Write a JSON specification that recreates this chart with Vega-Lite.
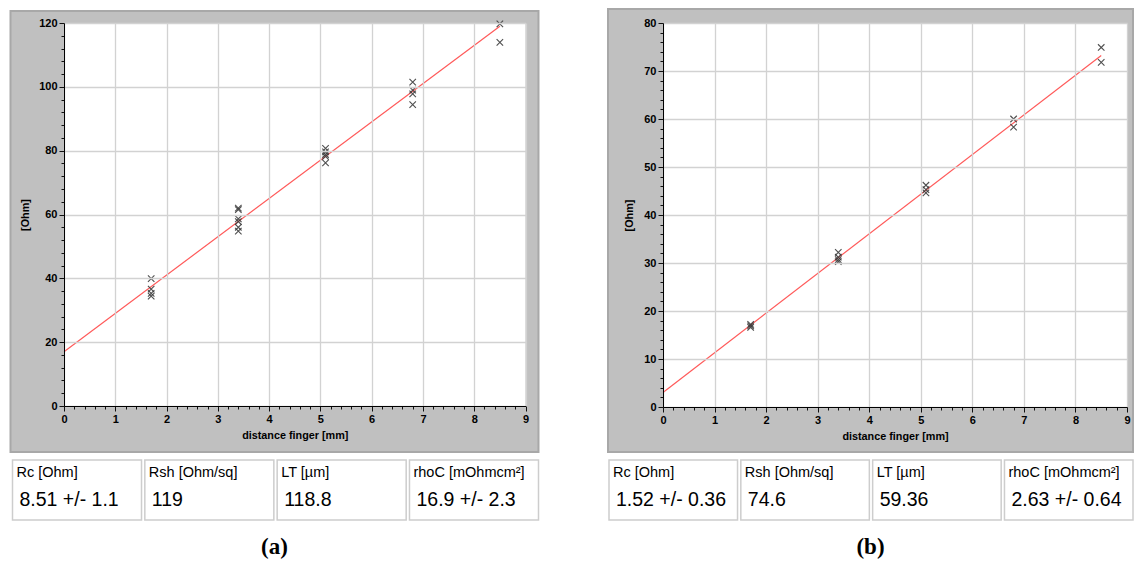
{
  "$schema": "https://vega.github.io/schema/vega-lite/v6.json",
  "background": "white",
  "padding": {"left": 9, "top": 7, "right": 0, "bottom": 0},
  "spacing": 67,
  "config": {
    "view": {"fill": "white", "stroke": null},
    "font": "Liberation Sans",
    "axis": {
      "labelFont": "Liberation Sans",
      "labelFontWeight": "bold",
      "labelFontSize": 11,
      "labelColor": "#000000",
      "labelPadding": 2,
      "labelFlush": false,
      "labelOverlap": false,
      "labelBound": false,
      "titleFont": "Liberation Sans",
      "titleFontWeight": "bold",
      "titleFontSize": 10.8,
      "titleColor": "#000000",
      "domainColor": "#000000",
      "domainWidth": 1,
      "tickColor": "#111111",
      "tickWidth": 1,
      "gridColor": "#d2d2d2",
      "gridWidth": 1.3
    }
  },
  "datasets": {
    "pointsA": [
      {"d": 1.7, "r": 39.9}, {"d": 1.7, "r": 36.6}, {"d": 1.7, "r": 35.3}, {"d": 1.7, "r": 34.4},
      {"d": 3.4, "r": 62.0}, {"d": 3.4, "r": 61.5}, {"d": 3.4, "r": 58.6}, {"d": 3.4, "r": 57.8}, {"d": 3.4, "r": 56.0}, {"d": 3.4, "r": 54.8},
      {"d": 5.1, "r": 80.7}, {"d": 5.1, "r": 79.6}, {"d": 5.1, "r": 78.8}, {"d": 5.1, "r": 78.2}, {"d": 5.1, "r": 76.2},
      {"d": 6.8, "r": 101.5}, {"d": 6.8, "r": 99.0}, {"d": 6.8, "r": 97.8}, {"d": 6.8, "r": 94.4},
      {"d": 8.5, "r": 119.7}, {"d": 8.5, "r": 113.9}
    ],
    "fitA": [{"d": 0, "r": 17.02}, {"d": 8.5, "r": 119.0}],
    "tableA": [
      {"name": "Rc [Ohm]", "value": "8.51 +/- 1.1"},
      {"name": "Rsh [Ohm/sq]", "value": "119"},
      {"name": "LT [µm]", "value": "118.8"},
      {"name": "rhoC [mOhmcm²]", "value": "16.9 +/- 2.3"}
    ],
    "pointsB": [
      {"d": 1.7, "r": 17.2}, {"d": 1.7, "r": 16.9}, {"d": 1.7, "r": 16.6},
      {"d": 3.4, "r": 32.2}, {"d": 3.4, "r": 31.2}, {"d": 3.4, "r": 30.7}, {"d": 3.4, "r": 30.3},
      {"d": 5.1, "r": 46.2}, {"d": 5.1, "r": 45.3}, {"d": 5.1, "r": 44.6},
      {"d": 6.8, "r": 60.0}, {"d": 6.8, "r": 58.3},
      {"d": 8.5, "r": 74.9}, {"d": 8.5, "r": 71.8}
    ],
    "fitB": [{"d": 0, "r": 3.04}, {"d": 8.5, "r": 73.25}],
    "tableB": [
      {"name": "Rc [Ohm]", "value": "1.52 +/- 0.36"},
      {"name": "Rsh [Ohm/sq]", "value": "74.6"},
      {"name": "LT [µm]", "value": "59.36"},
      {"name": "rhoC [mOhmcm²]", "value": "2.63 +/- 0.64"}
    ]
  },
  "hconcat": [
    {
      "spacing": 6,
      "title": {"text": "(a)", "orient": "bottom", "anchor": "middle", "font": "Liberation Serif", "fontSize": 23, "fontWeight": "bold", "color": "#000000", "offset": 15},
      "vconcat": [
        {
          "width": 461.5,
          "height": 383,
          "layer": [
            {
              "data": {"values": [{}]},
              "mark": {"type": "rect", "fill": "#c0c0c0"},
              "encoding": {
                "x": {"datum": -1.0433, "type": "quantitative"}, "x2": {"datum": 0},
                "y": {"datum": -14.41, "type": "quantitative"}, "y2": {"datum": 123.76}
              }
            },
            {
              "data": {"values": [{}]},
              "mark": {"type": "rect", "fill": "#c0c0c0"},
              "encoding": {
                "x": {"datum": 9, "type": "quantitative"}, "x2": {"datum": 9.2532},
                "y": {"datum": -14.41, "type": "quantitative"}, "y2": {"datum": 123.76}
              }
            },
            {
              "data": {"values": [{}]},
              "mark": {"type": "rect", "fill": "#c0c0c0"},
              "encoding": {
                "x": {"datum": -1.0433, "type": "quantitative"}, "x2": {"datum": 9.2532},
                "y": {"datum": 120, "type": "quantitative"}, "y2": {"datum": 123.76}
              }
            },
            {
              "data": {"values": [{}]},
              "mark": {"type": "rect", "fill": "#c0c0c0"},
              "encoding": {
                "x": {"datum": -1.0433, "type": "quantitative"}, "x2": {"datum": 9.2532},
                "y": {"datum": -14.41, "type": "quantitative"}, "y2": {"datum": 0}
              }
            },
            {
              "data": {"values": [{}]},
              "mark": {"type": "rect", "fillOpacity": 0, "stroke": "#a8a8a8", "strokeWidth": 2},
              "encoding": {
                "x": {"datum": -1.0433, "type": "quantitative"}, "x2": {"datum": 9.2532},
                "y": {"datum": -14.41, "type": "quantitative"}, "y2": {"datum": 123.76}
              }
            },
            {
              "data": {"name": "fitA"},
              "mark": {"type": "line", "color": "#ff5a5a", "strokeWidth": 1.2},
              "encoding": {
                "x": {"field": "d", "type": "quantitative"},
                "y": {"field": "r", "type": "quantitative"}
              }
            },
            {
              "data": {"name": "pointsA"},
              "mark": {"type": "point", "shape": "M-1,-1L1,1M1,-1L-1,1", "filled": false, "stroke": "#3c3c3c", "strokeWidth": 1.1, "size": 42, "opacity": 0.9},
              "encoding": {
                "x": {
                  "field": "d", "type": "quantitative",
                  "scale": {"domain": [0, 9], "nice": false, "zero": false},
                  "axis": {
                    "title": "distance finger [mm]",
                    "titlePadding": 5,
                    "grid": true,
                    "zindex": 1,
                    "tickCount": 200,
                    "values": [0,0.2,0.4,0.6,0.8,1,1.2,1.4,1.6,1.8,2,2.2,2.4,2.6,2.8,3,3.2,3.4,3.6,3.8,4,4.2,4.4,4.6,4.8,5,5.2,5.4,5.6,5.8,6,6.2,6.4,6.6,6.8,7,7.2,7.4,7.6,7.8,8,8.2,8.4,8.6,8.8,9],
                    "labelExpr": "datum.value % 1 === 0 ? '' + datum.value : ''",
                    "tickSize": {"condition": {"test": "datum.value % 1 === 0", "value": 5}, "value": 3},
                    "gridOpacity": {"condition": {"test": "datum.value % 1 === 0", "value": 1}, "value": 0}
                  }
                },
                "y": {
                  "field": "r", "type": "quantitative",
                  "scale": {"domain": [0, 120], "nice": false, "zero": false},
                  "axis": {
                    "title": "[Ohm]",
                    "titlePadding": 8,
                    "grid": true,
                    "zindex": 1,
                    "tickCount": 200,
                    "values": [0,4,8,12,16,20,24,28,32,36,40,44,48,52,56,60,64,68,72,76,80,84,88,92,96,100,104,108,112,116,120],
                    "labelExpr": "datum.value % 20 === 0 ? '' + datum.value : ''",
                    "tickSize": {"condition": {"test": "datum.value % 20 === 0", "value": 5}, "value": 3},
                    "gridOpacity": {"condition": {"test": "datum.value % 20 === 0", "value": 1}, "value": 0}
                  }
                }
              }
            }
          ]
        },
        {
          "width": 461.5,
          "height": 60,
          "data": {"name": "tableA"},
          "layer": [
            {
              "mark": {"type": "rect", "fill": "white", "stroke": "#cdcdcd", "strokeWidth": 1.5},
              "encoding": {
                "x": {"field": "name", "type": "nominal", "sort": null, "axis": null,
                      "scale": {"range": [-51.5, 474.5], "paddingInner": 0.025, "paddingOuter": 0}}
              }
            },
            {
              "mark": {"type": "text", "align": "left", "baseline": "middle", "font": "Liberation Sans", "fontSize": 14.5, "dx": 4, "color": "#000000"},
              "encoding": {
                "x": {"field": "name", "type": "nominal", "sort": null, "bandPosition": 0},
                "y": {"datum": "label", "type": "nominal", "axis": null,
                      "scale": {"type": "point", "domain": ["label", "value"], "padding": 0.6111, "align": 0.3939}},
                "text": {"field": "name"}
              }
            },
            {
              "mark": {"type": "text", "align": "left", "baseline": "middle", "font": "Liberation Sans", "fontSize": 19.5, "dx": 7, "color": "#000000"},
              "encoding": {
                "x": {"field": "name", "type": "nominal", "sort": null, "bandPosition": 0},
                "y": {"datum": "value", "type": "nominal"},
                "text": {"field": "value"}
              }
            }
          ]
        }
      ]
    },
    {
      "spacing": 6,
      "title": {"text": "(b)", "orient": "bottom", "anchor": "middle", "font": "Liberation Serif", "fontSize": 23, "fontWeight": "bold", "color": "#000000", "offset": 15},
      "vconcat": [
        {
          "width": 464,
          "height": 384,
          "layer": [
            {
              "data": {"values": [{}]},
              "mark": {"type": "rect", "fill": "#c0c0c0"},
              "encoding": {
                "x": {"datum": -1.0668, "type": "quantitative"}, "x2": {"datum": 0},
                "y": {"datum": -9.375, "type": "quantitative"}, "y2": {"datum": 82.917}
              }
            },
            {
              "data": {"values": [{}]},
              "mark": {"type": "rect", "fill": "#c0c0c0"},
              "encoding": {
                "x": {"datum": 9, "type": "quantitative"}, "x2": {"datum": 9.1164},
                "y": {"datum": -9.375, "type": "quantitative"}, "y2": {"datum": 82.917}
              }
            },
            {
              "data": {"values": [{}]},
              "mark": {"type": "rect", "fill": "#c0c0c0"},
              "encoding": {
                "x": {"datum": -1.0668, "type": "quantitative"}, "x2": {"datum": 9.1164},
                "y": {"datum": 80, "type": "quantitative"}, "y2": {"datum": 82.917}
              }
            },
            {
              "data": {"values": [{}]},
              "mark": {"type": "rect", "fill": "#c0c0c0"},
              "encoding": {
                "x": {"datum": -1.0668, "type": "quantitative"}, "x2": {"datum": 9.1164},
                "y": {"datum": -9.375, "type": "quantitative"}, "y2": {"datum": 0}
              }
            },
            {
              "data": {"values": [{}]},
              "mark": {"type": "rect", "fillOpacity": 0, "stroke": "#a8a8a8", "strokeWidth": 2},
              "encoding": {
                "x": {"datum": -1.0668, "type": "quantitative"}, "x2": {"datum": 9.1164},
                "y": {"datum": -9.375, "type": "quantitative"}, "y2": {"datum": 82.917}
              }
            },
            {
              "data": {"name": "fitB"},
              "mark": {"type": "line", "color": "#ff5a5a", "strokeWidth": 1.2},
              "encoding": {
                "x": {"field": "d", "type": "quantitative"},
                "y": {"field": "r", "type": "quantitative"}
              }
            },
            {
              "data": {"name": "pointsB"},
              "mark": {"type": "point", "shape": "M-1,-1L1,1M1,-1L-1,1", "filled": false, "stroke": "#3c3c3c", "strokeWidth": 1.1, "size": 42, "opacity": 0.9},
              "encoding": {
                "x": {
                  "field": "d", "type": "quantitative",
                  "scale": {"domain": [0, 9], "nice": false, "zero": false},
                  "axis": {
                    "title": "distance finger [mm]",
                    "titlePadding": 5,
                    "grid": true,
                    "zindex": 1,
                    "tickCount": 200,
                    "values": [0,0.2,0.4,0.6,0.8,1,1.2,1.4,1.6,1.8,2,2.2,2.4,2.6,2.8,3,3.2,3.4,3.6,3.8,4,4.2,4.4,4.6,4.8,5,5.2,5.4,5.6,5.8,6,6.2,6.4,6.6,6.8,7,7.2,7.4,7.6,7.8,8,8.2,8.4,8.6,8.8,9],
                    "labelExpr": "datum.value % 1 === 0 ? '' + datum.value : ''",
                    "tickSize": {"condition": {"test": "datum.value % 1 === 0", "value": 5}, "value": 3},
                    "gridOpacity": {"condition": {"test": "datum.value % 1 === 0", "value": 1}, "value": 0}
                  }
                },
                "y": {
                  "field": "r", "type": "quantitative",
                  "scale": {"domain": [0, 80], "nice": false, "zero": false},
                  "axis": {
                    "title": "[Ohm]",
                    "titlePadding": 9,
                    "grid": true,
                    "zindex": 1,
                    "tickCount": 200,
                    "values": [0,2,4,6,8,10,12,14,16,18,20,22,24,26,28,30,32,34,36,38,40,42,44,46,48,50,52,54,56,58,60,62,64,66,68,70,72,74,76,78,80],
                    "labelExpr": "datum.value % 10 === 0 ? '' + datum.value : ''",
                    "tickSize": {"condition": {"test": "datum.value % 10 === 0", "value": 5}, "value": 3},
                    "gridOpacity": {"condition": {"test": "datum.value % 10 === 0", "value": 1}, "value": 0}
                  }
                }
              }
            }
          ]
        },
        {
          "width": 464,
          "height": 60,
          "data": {"name": "tableB"},
          "layer": [
            {
              "mark": {"type": "rect", "fill": "white", "stroke": "#cdcdcd", "strokeWidth": 1.5},
              "encoding": {
                "x": {"field": "name", "type": "nominal", "sort": null, "axis": null,
                      "scale": {"range": [-54, 470], "paddingInner": 0.025, "paddingOuter": 0}}
              }
            },
            {
              "mark": {"type": "text", "align": "left", "baseline": "middle", "font": "Liberation Sans", "fontSize": 14.5, "dx": 4, "color": "#000000"},
              "encoding": {
                "x": {"field": "name", "type": "nominal", "sort": null, "bandPosition": 0},
                "y": {"datum": "label", "type": "nominal", "axis": null,
                      "scale": {"type": "point", "domain": ["label", "value"], "padding": 0.6111, "align": 0.3939}},
                "text": {"field": "name"}
              }
            },
            {
              "mark": {"type": "text", "align": "left", "baseline": "middle", "font": "Liberation Sans", "fontSize": 19.5, "dx": 7, "color": "#000000"},
              "encoding": {
                "x": {"field": "name", "type": "nominal", "sort": null, "bandPosition": 0},
                "y": {"datum": "value", "type": "nominal"},
                "text": {"field": "value"}
              }
            }
          ]
        }
      ]
    }
  ]
}
